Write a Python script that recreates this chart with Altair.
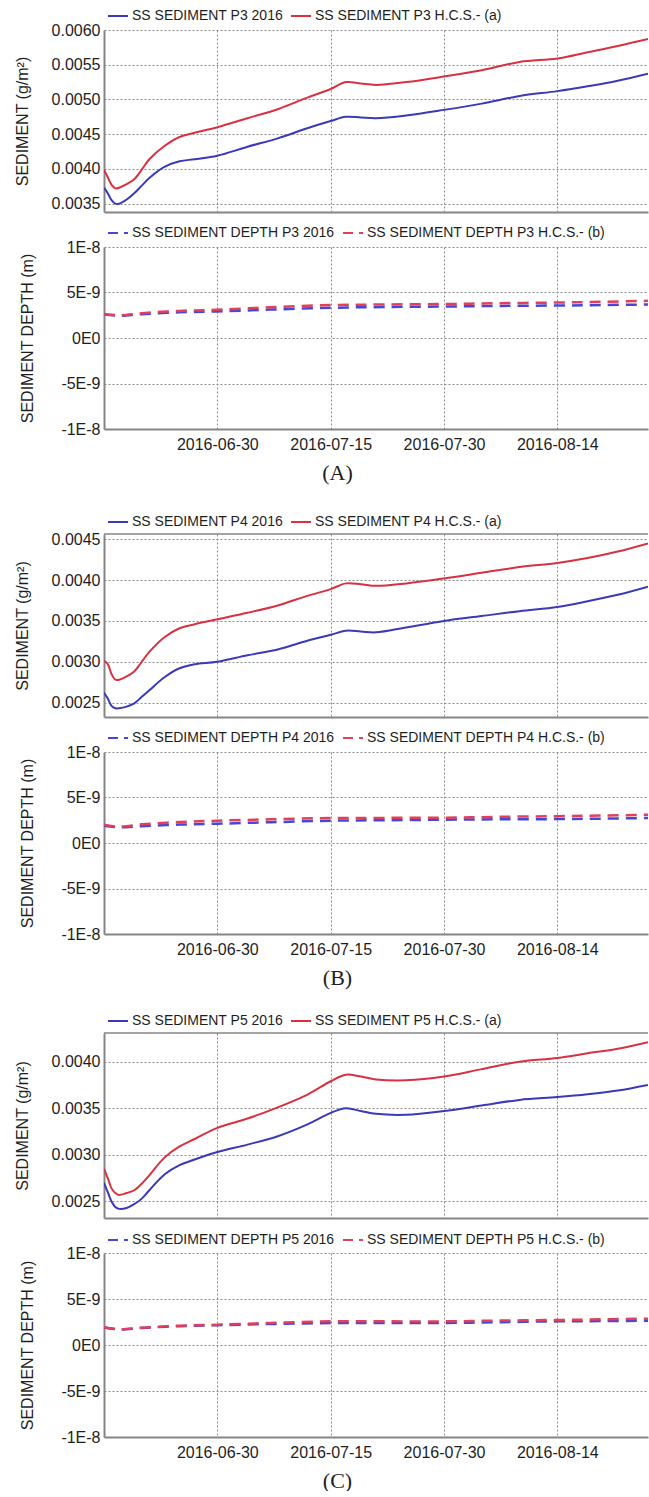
import altair as alt
import pandas as pd

# ---- time axis -------------------------------------------------------------
SED_DATES = [
    "2016-06-15T00:00", "2016-06-15T12:00", "2016-06-16T00:00", "2016-06-16T12:00",
    "2016-06-17T00:00", "2016-06-18T00:00", "2016-06-19T00:00", "2016-06-20T00:00",
    "2016-06-21T00:00", "2016-06-23T00:00", "2016-06-25T00:00", "2016-06-27T00:00",
    "2016-06-30T00:00", "2016-07-04T00:00", "2016-07-08T00:00", "2016-07-12T00:00",
    "2016-07-15T00:00", "2016-07-17T00:00", "2016-07-19T00:00", "2016-07-21T00:00",
    "2016-07-25T00:00", "2016-07-30T00:00", "2016-08-04T00:00", "2016-08-09T00:00",
    "2016-08-14T00:00", "2016-08-18T00:00", "2016-08-22T00:00", "2016-08-26T00:00",
]
DEPTH_DATES = [
    "2016-06-15T00:00", "2016-06-17T00:00", "2016-06-20T00:00", "2016-06-25T00:00",
    "2016-06-30T00:00", "2016-07-07T00:00", "2016-07-15T00:00", "2016-07-22T00:00",
    "2016-07-30T00:00", "2016-08-06T00:00", "2016-08-14T00:00", "2016-08-20T00:00",
    "2016-08-26T00:00",
]
TICK_DATES = [(6, 30), (7, 15), (7, 30), (8, 14)]

# ---- suspended sediment (g/m2) ---------------------------------------------
P3_SED_2016 = [0.00373, 0.00365, 0.00355, 0.00350, 0.00350, 0.00356, 0.00365, 0.00376,
               0.00387, 0.00403, 0.00411, 0.00414, 0.00419, 0.00432, 0.00444, 0.00459,
               0.00469, 0.00475, 0.00474, 0.00473, 0.00477, 0.00485, 0.00494, 0.00505,
               0.00512, 0.00519, 0.00527, 0.00537]
P3_SED_HCS = [0.00399, 0.00388, 0.00377, 0.00372, 0.00373, 0.00378, 0.00385, 0.00399,
              0.00414, 0.00433, 0.00446, 0.00452, 0.00460, 0.00473, 0.00486, 0.00503,
              0.00515, 0.00525, 0.00523, 0.00521, 0.00525, 0.00533, 0.00542, 0.00554,
              0.00559, 0.00568, 0.00577, 0.00587]
P4_SED_2016 = [0.00262, 0.00255, 0.00246, 0.00243, 0.00243, 0.00245, 0.00249, 0.00257,
               0.00265, 0.00281, 0.00292, 0.00297, 0.00300, 0.00308, 0.00315, 0.00326,
               0.00333, 0.00338, 0.00337, 0.00336, 0.00342, 0.00350, 0.00356, 0.00362,
               0.00367, 0.00374, 0.00382, 0.00392]
P4_SED_HCS = [0.00301, 0.00297, 0.00285, 0.00278, 0.00278, 0.00282, 0.00288, 0.00300,
              0.00312, 0.00330, 0.00341, 0.00346, 0.00352, 0.00360, 0.00369, 0.00381,
              0.00389, 0.00396, 0.00395, 0.00393, 0.00396, 0.00402, 0.00409, 0.00416,
              0.00421, 0.00427, 0.00435, 0.00445]
P5_SED_2016 = [0.00270, 0.00260, 0.00250, 0.00244, 0.00242, 0.00243, 0.00247, 0.00253,
               0.00262, 0.00279, 0.00289, 0.00295, 0.00303, 0.00311, 0.00320, 0.00333,
               0.00345, 0.00350, 0.00347, 0.00344, 0.00343, 0.00347, 0.00353, 0.00359,
               0.00362, 0.00365, 0.00369, 0.00375]
P5_SED_HCS = [0.00285, 0.00275, 0.00264, 0.00259, 0.00257, 0.00259, 0.00262, 0.00269,
              0.00278, 0.00297, 0.00309, 0.00317, 0.00329, 0.00339, 0.00351, 0.00365,
              0.00379, 0.00386, 0.00384, 0.00381, 0.00380, 0.00384, 0.00392, 0.00400,
              0.00404, 0.00409, 0.00414, 0.00421]

# ---- sediment depth (m) ----------------------------------------------------
P3_DEPTH_2016 = [2.60e-9, 2.45e-9, 2.62e-9, 2.82e-9, 2.92e-9, 3.12e-9, 3.32e-9,
                 3.40e-9, 3.46e-9, 3.52e-9, 3.57e-9, 3.62e-9, 3.68e-9]
P3_DEPTH_HCS = [2.65e-9, 2.50e-9, 2.72e-9, 2.98e-9, 3.10e-9, 3.38e-9, 3.62e-9,
                3.68e-9, 3.73e-9, 3.82e-9, 3.90e-9, 3.98e-9, 4.09e-9]
P4_DEPTH_2016 = [1.90e-9, 1.72e-9, 1.85e-9, 2.02e-9, 2.12e-9, 2.28e-9, 2.45e-9,
                 2.50e-9, 2.56e-9, 2.60e-9, 2.63e-9, 2.68e-9, 2.74e-9]
P4_DEPTH_HCS = [2.00e-9, 1.80e-9, 2.05e-9, 2.30e-9, 2.45e-9, 2.60e-9, 2.74e-9,
                2.76e-9, 2.78e-9, 2.87e-9, 2.95e-9, 3.02e-9, 3.10e-9]
P5_DEPTH_2016 = [1.91e-9, 1.70e-9, 1.85e-9, 2.05e-9, 2.15e-9, 2.28e-9, 2.39e-9,
                 2.39e-9, 2.39e-9, 2.48e-9, 2.57e-9, 2.60e-9, 2.64e-9]
P5_DEPTH_HCS = [1.93e-9, 1.72e-9, 1.88e-9, 2.10e-9, 2.20e-9, 2.40e-9, 2.57e-9,
                2.57e-9, 2.57e-9, 2.65e-9, 2.72e-9, 2.79e-9, 2.86e-9]

SED_TICKS_P3 = [0.0035, 0.0040, 0.0045, 0.0050, 0.0055, 0.0060]
SED_TICKS_P4 = [0.0025, 0.0030, 0.0035, 0.0040, 0.0045]
SED_TICKS_P5 = [0.0025, 0.0030, 0.0035, 0.0040]
DEPTH_TICKS = [-1e-8, -5e-9, 0.0, 5e-9, 1e-8]

# ---- styling ---------------------------------------------------------------
SANS = "Liberation Sans"
SERIF = "Liberation Serif"
BLUE = "#3a3ab8"
RED = "#d8313f"
BLUE_DASH = "#4646d8"
RED_DASH = "#e0405a"
GRID = "#8c8c8c"
FRAME = "#858585"
TEXT = "#1e1e1e"
W = 544

X_DOMAIN = [alt.DateTime(year=2016, month=6, date=15),
            alt.DateTime(year=2016, month=8, date=26)]
X_VALUES = [alt.DateTime(year=2016, month=m, date=d) for m, d in TICK_DATES]

frame_df = pd.DataFrame({"k": [0]})


def x_axis(show_labels, caption=None):
    kw = dict(values=X_VALUES, grid=True, gridColor=GRID, gridDash=[2, 2],
              gridWidth=1, ticks=False, domain=True, domainColor=FRAME,
              domainWidth=2, labels=show_labels)
    if show_labels:
        kw.update(format="%Y-%m-%d", labelFont=SANS, labelFontSize=16,
                  labelColor=TEXT, labelPadding=7, title=caption,
                  titleFont=SERIF, titleFontSize=22, titleFontWeight="normal",
                  titleColor=TEXT, titleX=233, titleY=43, titleAlign="center",
                  titleBaseline="middle")
    else:
        kw.update(title=None)
    return alt.Axis(**kw)


def y_axis(values, title, title_x, fmt=None, label_expr=None):
    kw = dict(values=values, grid=True, gridColor=GRID, gridDash=[2, 2],
              gridWidth=1, ticks=False, domain=True, domainColor=FRAME,
              domainWidth=2, labelFont=SANS, labelFontSize=16, labelColor=TEXT,
              labelPadding=4, title=title, titleFont=SANS, titleFontSize=16,
              titleFontWeight="normal", titleColor=TEXT, titleX=title_x,
              titleBaseline="middle")
    if fmt:
        kw["format"] = fmt
    if label_expr:
        kw["labelExpr"] = label_expr
    return alt.Axis(**kw)


def legend(legend_y, dashed):
    kw = dict(orient="none", legendX=3, legendY=legend_y, direction="horizontal",
              title=None, symbolType="stroke", symbolSize=400,
              symbolStrokeWidth=2, labelFont=SANS, labelFontSize=14,
              labelColor=TEXT, labelOffset=3, labelLimit=0, columnPadding=4,
              padding=0)
    if dashed:
        kw["symbolDash"] = [10, 6]
    return alt.Legend(**kw)


def long_table(dates, a, b, names):
    return pd.DataFrame({
        "date": list(dates) + list(dates),
        "value": list(a) + list(b),
        "series": [names[0]] * len(a) + [names[1]] * len(b),
    })


def sediment_view(point, s2016, shcs, ydom, yticks, height, legend_y, top_rule):
    names = [f"SS SEDIMENT {point} 2016", f"SS SEDIMENT {point} H.C.S.- (a)"]
    df = long_table(SED_DATES, s2016, shcs, names)
    lines = alt.Chart(df).mark_line(strokeWidth=2, interpolate="catmull-rom", clip=True).encode(
        x=alt.X("date:T", scale=alt.Scale(domain=X_DOMAIN), axis=x_axis(False)),
        y=alt.Y("value:Q", scale=alt.Scale(domain=ydom, nice=False, zero=False),
                axis=y_axis(yticks, "SEDIMENT (g/m²)", -82, fmt=".4f")),
        color=alt.Color("series:N", scale=alt.Scale(domain=names, range=[BLUE, RED]),
                        legend=legend(legend_y, False)),
    )
    layers = [lines]
    if top_rule:
        layers.append(alt.Chart(frame_df).mark_rule(color=FRAME, strokeWidth=1.5)
                      .encode(y=alt.value(0)))
    return alt.layer(*layers).properties(width=W, height=height)


def depth_view(point, d2016, dhcs, height, legend_y, caption):
    names = [f"SS SEDIMENT DEPTH {point} 2016", f"SS SEDIMENT DEPTH {point} H.C.S.- (b)"]
    df = long_table(DEPTH_DATES, d2016, dhcs, names)
    expr = ("datum.value == 0 ? '0E0' : (datum.value < 0 ? '-' : '') + "
            "(abs(datum.value) > 7e-9 ? '1E-8' : '5E-9')")
    lines = alt.Chart(df).mark_line(strokeWidth=2.5, strokeDash=[11, 7],
                                    interpolate="catmull-rom", clip=True).encode(
        x=alt.X("date:T", scale=alt.Scale(domain=X_DOMAIN), axis=x_axis(True, caption)),
        y=alt.Y("value:Q", scale=alt.Scale(domain=[-1e-8, 1e-8], nice=False, zero=False),
                axis=y_axis(DEPTH_TICKS, "SEDIMENT DEPTH (m)", -77, label_expr=expr)),
        color=alt.Color("series:N", scale=alt.Scale(domain=names, range=[BLUE_DASH, RED_DASH]),
                        legend=legend(legend_y, True)),
    )
    return lines.properties(width=W, height=height)


def spacer(height):
    return alt.Chart(frame_df).mark_point(opacity=0).properties(width=W, height=height)


chart = alt.vconcat(
    sediment_view("P3", P3_SED_2016, P3_SED_HCS, [0.00338, 0.0060], SED_TICKS_P3, 182, -25, False),
    depth_view("P3", P3_DEPTH_2016, P3_DEPTH_HCS, 182, -25, "(A)"),
    spacer(35),
    sediment_view("P4", P4_SED_2016, P4_SED_HCS, [0.002323, 0.004565], SED_TICKS_P4, 183, -23, True),
    depth_view("P4", P4_DEPTH_2016, P4_DEPTH_HCS, 182, -25, "(B)"),
    spacer(29),
    sediment_view("P5", P5_SED_2016, P5_SED_HCS, [0.002322, 0.004308], SED_TICKS_P5, 185, -23, True),
    depth_view("P5", P5_DEPTH_2016, P5_DEPTH_HCS, 184, -24, "(C)"),
    spacing=35,
    bounds="flush",
).resolve_scale(
    color="independent", y="independent", x="independent"
).resolve_legend(
    color="independent"
).properties(
    padding={"left": 13, "top": 5, "right": 0, "bottom": 0},
    background="white",
).configure_view(stroke=None)

chart.save("out.html", embed_options={"renderer": "svg", "actions": False})
